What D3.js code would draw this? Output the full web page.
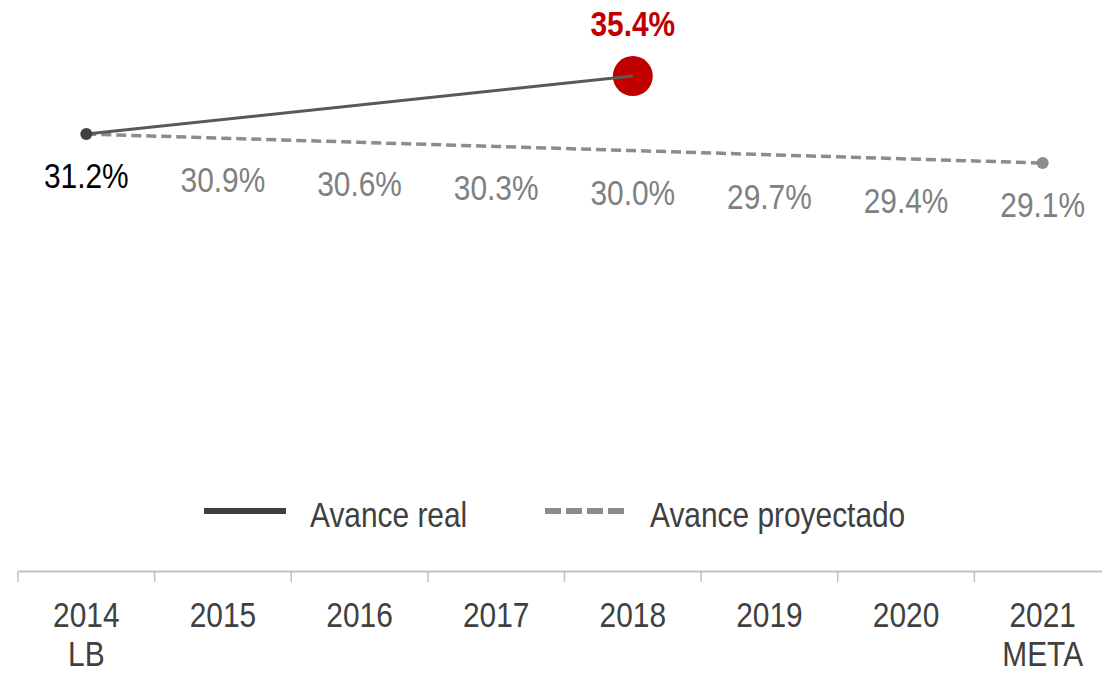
<!DOCTYPE html>
<html>
<head>
<meta charset="utf-8">
<script src="https://cdn.jsdelivr.net/npm/d3@7"></script>
<style>
  body { margin: 0; background: #fff; }
  svg text { font-family: "Liberation Sans", Arial, sans-serif; }
</style>
</head>
<body>
<div id="chart"></div>
<script>
// data
var years = ["2014", "2015", "2016", "2017", "2018", "2019", "2020", "2021"];
var yearSub = ["LB", "", "", "", "", "", "", "META"];
var realYears = ["2014", "2018"];
var realValues = [31.2, 35.4];
var projValues = [31.2, 30.9, 30.6, 30.3, 30.0, 29.7, 29.4, 29.1];
var legendLabels = ["Avance real", "Avance proyectado"];

var width = 1102, height = 674;
var narrow = 0.83; // squeeze Liberation Sans to look like Arial Narrow

var svg = d3.select("#chart")
  .append("svg")
  .attr("width", width)
  .attr("height", height);

// scales
var x = d3.scaleBand()
  .domain(years)
  .range([18, 1111])
  .padding(0);

var y = d3.scaleLinear()
  .domain([25, 36])
  .range([219.6, 67.8]);

var cx = function(d) { return x(d) + x.bandwidth() / 2; };

function narrowText(sel, fx, fy) {
  return sel.append("g")
    .attr("transform", function(d, i) {
      return "translate(" + fx(d, i) + "," + fy(d, i) + ") scale(" + narrow + ",1)";
    })
    .append("text")
    .attr("font-size", "36px");
}

// axis (labels only, ticks drawn at band edges)
var axisY = 571;
var axis = svg.append("g")
  .attr("transform", "translate(0," + axisY + ")")
  .call(d3.axisBottom(x).tickSize(0).tickSizeOuter(0).tickFormat(""));
axis.select(".domain").attr("stroke", "#bfbfbf").attr("stroke-width", 2);

svg.append("g")
  .selectAll("line")
  .data(years)
  .enter()
  .append("line")
  .attr("x1", function(d) { return x(d); })
  .attr("x2", function(d) { return x(d); })
  .attr("y1", axisY)
  .attr("y2", axisY + 11)
  .attr("stroke", "#bfbfbf")
  .attr("stroke-width", 1.5);

var tickText = narrowText(
    svg.append("g").selectAll("g").data(years).enter(),
    function(d) { return cx(d); },
    function() { return axisY + 56; })
  .attr("fill", "#404040")
  .style("text-anchor", "middle");
tickText.append("tspan").text(function(d) { return d; });
tickText.append("tspan")
  .attr("x", 0)
  .attr("dy", 39)
  .text(function(d, i) { return yearSub[i]; });

// projected line
var projData = years.map(function(d, i) { return { year: d, v: projValues[i] }; });
var line = d3.line()
  .x(function(d) { return cx(d.year); })
  .y(function(d) { return y(d.v); });

svg.append("path")
  .datum(projData)
  .attr("d", line)
  .attr("fill", "none")
  .attr("stroke", "#8c8c8c")
  .attr("stroke-width", 3.5)
  .attr("stroke-dasharray", "10,5");

// real line
var realData = realYears.map(function(d, i) { return { year: d, v: realValues[i] }; });

svg.append("circle")
  .attr("cx", cx(realYears[1]))
  .attr("cy", y(realValues[1]))
  .attr("r", 20)
  .attr("fill", "#c00000");

svg.append("path")
  .datum(realData)
  .attr("d", line)
  .attr("fill", "none")
  .attr("stroke", "#595959")
  .attr("stroke-width", 3);

svg.append("circle")
  .attr("cx", cx(years[0]))
  .attr("cy", y(projValues[0]))
  .attr("r", 6)
  .attr("fill", "#404040");

svg.append("circle")
  .attr("cx", cx(years[7]))
  .attr("cy", y(projValues[7]))
  .attr("r", 6)
  .attr("fill", "#8c8c8c");

// value labels
narrowText(
    svg.append("g").selectAll("g").data(projData).enter(),
    function(d) { return cx(d.year); },
    function(d) { return y(d.v) + 54; })
  .attr("fill", function(d, i) { return i == 0 ? "#000000" : "#808080"; })
  .style("text-anchor", "middle")
  .text(function(d) { return d.v.toFixed(1) + "%"; });

narrowText(
    svg.append("g").selectAll("g").data([realValues[1]]).enter(),
    function() { return cx(realYears[1]); },
    function(d) { return y(d) - 40; })
  .attr("font-weight", "bold")
  .attr("fill", "#c00000")
  .style("text-anchor", "middle")
  .text(function(d) { return d.toFixed(1) + "%"; });

// legend
var legend = svg.append("g").attr("transform", "translate(0,511)");
legend.append("line")
  .attr("x1", 204).attr("x2", 286)
  .attr("stroke", "#404040").attr("stroke-width", 6);
legend.append("line")
  .attr("x1", 545).attr("x2", 625)
  .attr("stroke", "#8c8c8c").attr("stroke-width", 6)
  .attr("stroke-dasharray", "16,5");
narrowText(
    legend.selectAll("g").data(legendLabels).enter(),
    function(d, i) { return i == 0 ? 310 : 650; },
    function() { return 16; })
  .attr("fill", "#404040")
  .text(function(d) { return d; });
</script>
</body>
</html>
